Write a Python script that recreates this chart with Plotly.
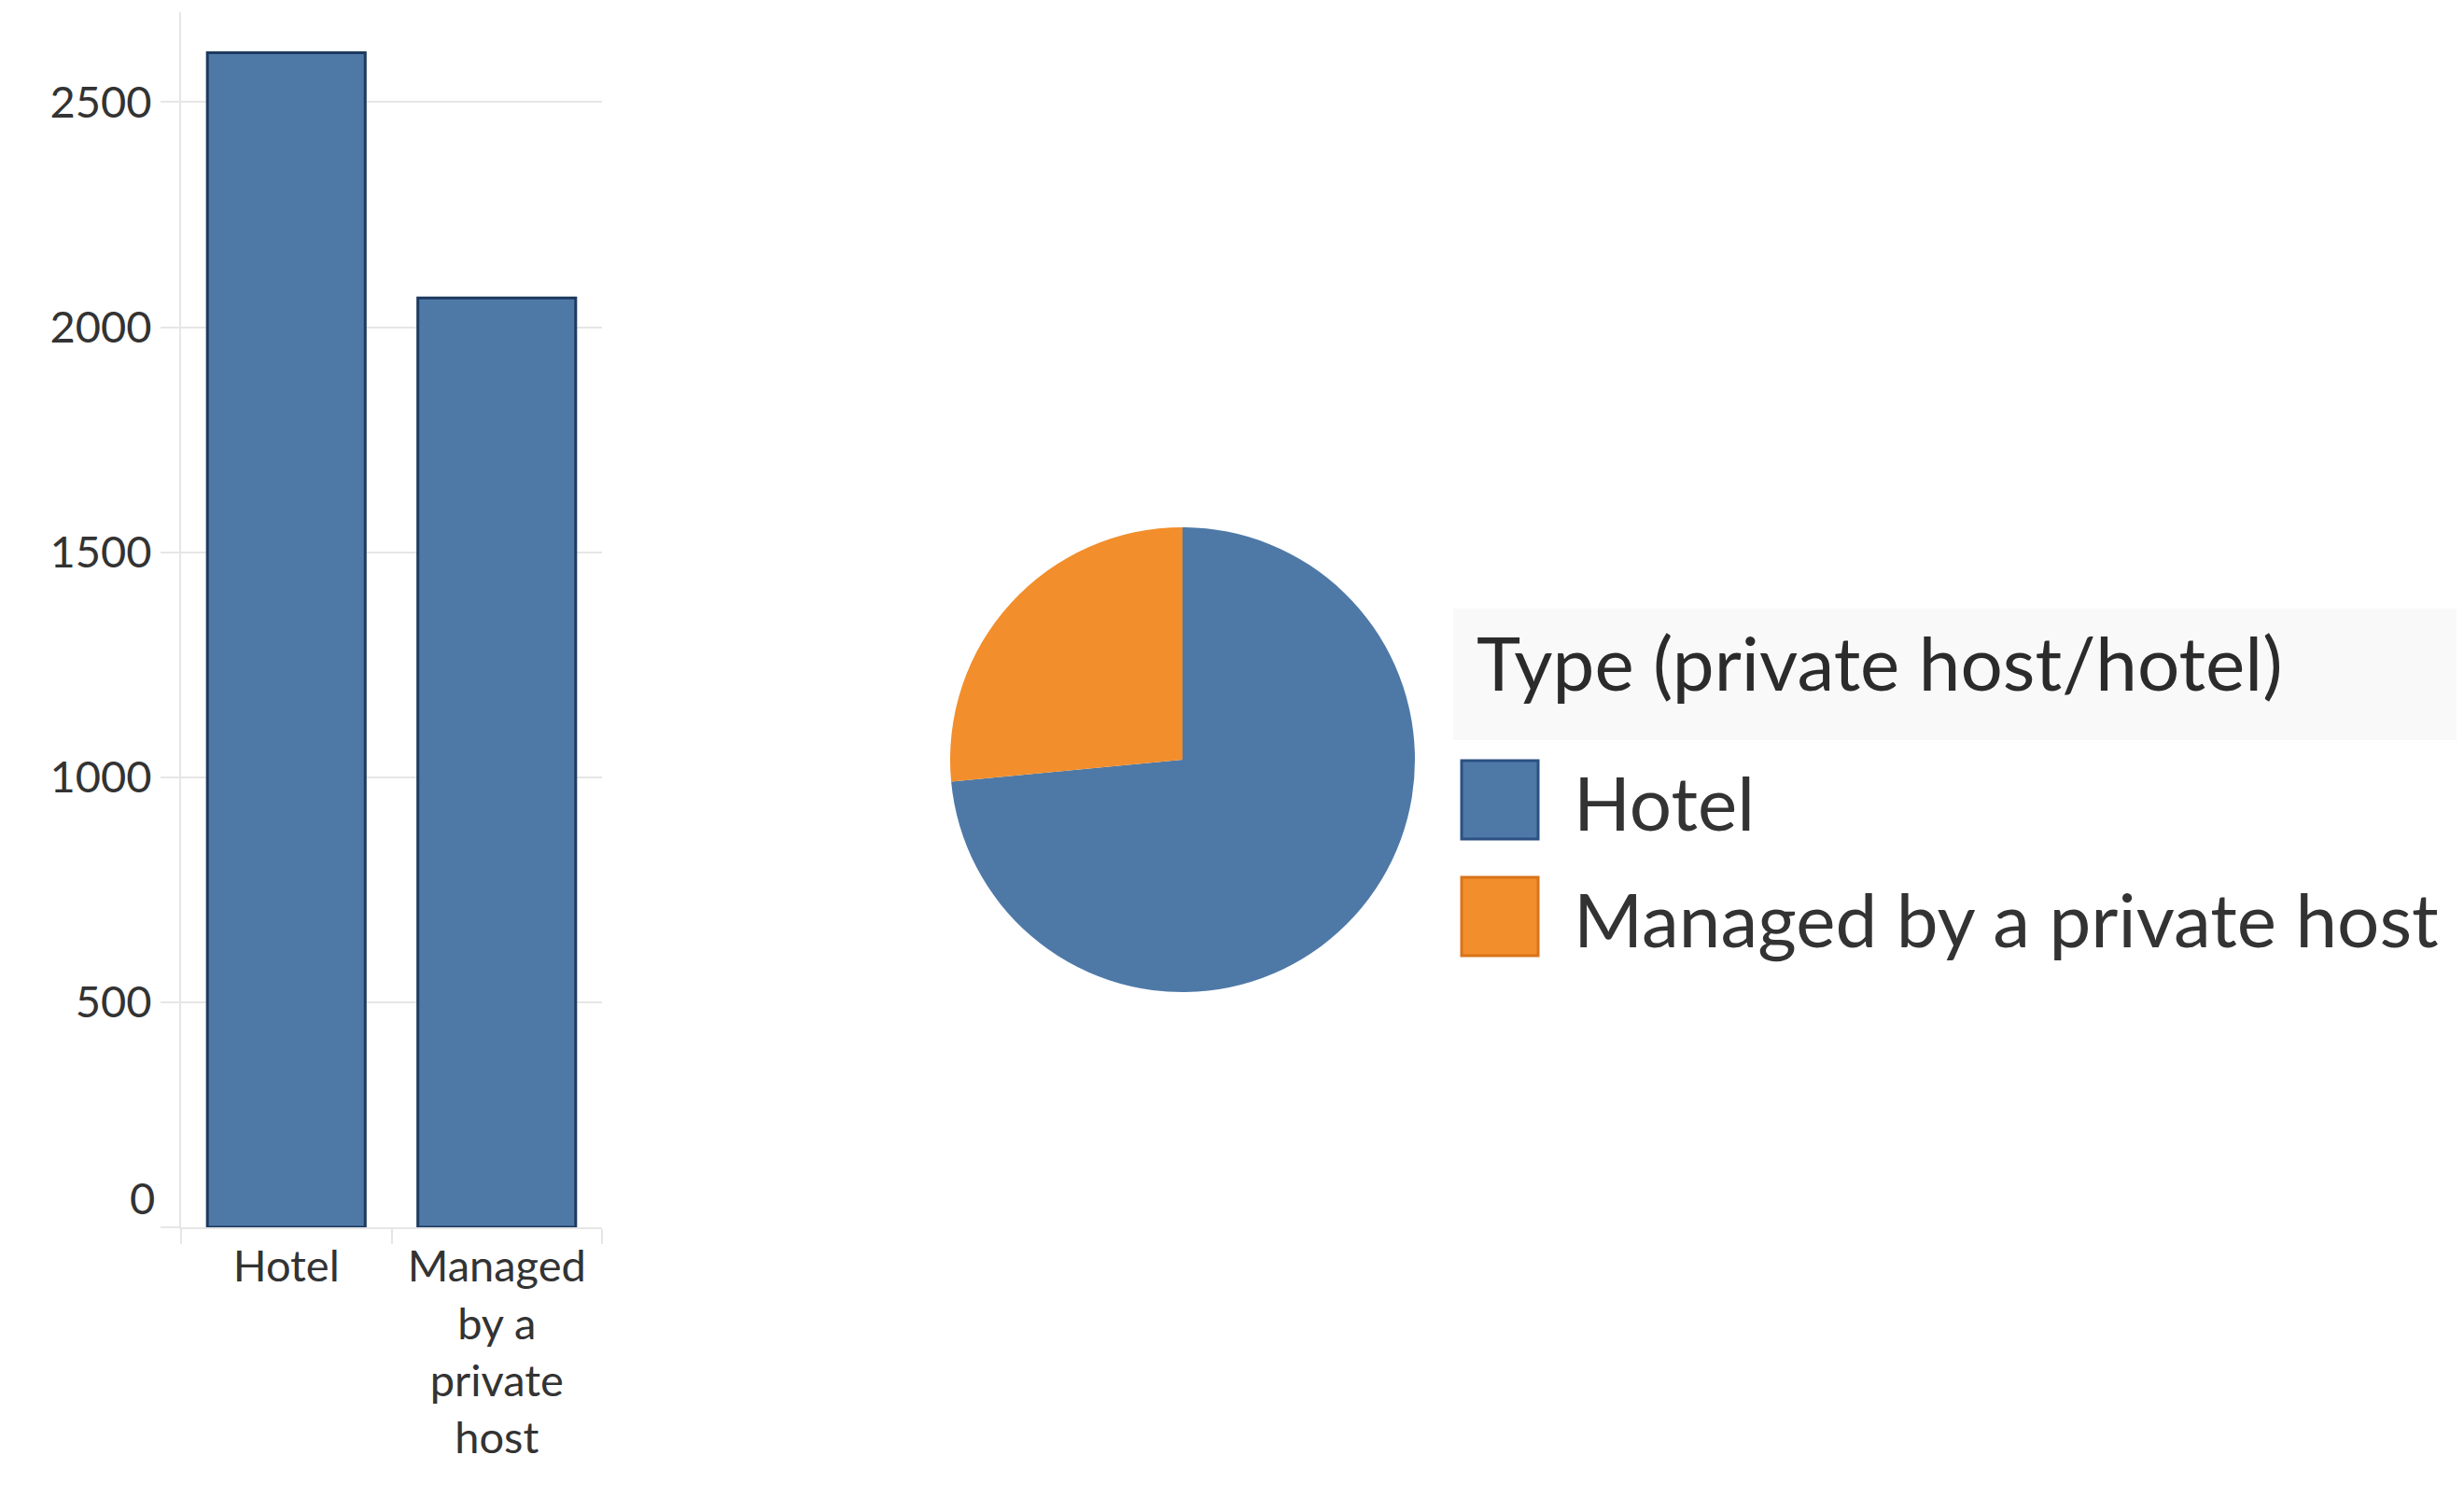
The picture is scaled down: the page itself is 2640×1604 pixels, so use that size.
import plotly.graph_objects as go

categories = ["Hotel", "Managed by a private host"]
bar_values = [2610, 2065]
pie_share = [73.5, 26.5]
colors = ["#4e79a7", "#f28e2b"]
edge_colors = ["#2b5182", "#d8741a"]
y_ticks = [0, 500, 1000, 1500, 2000, 2500]
x_tick_text = ["Hotel", "Managed<br>by a<br>private<br>host"]
legend_title = "Type (private host/hotel)"

W, H = 2640, 1604
OFF = 8  # page body margin pushes the figure down/right
FONT = "Lato"
GRID = "#e6e6e6"


def px_x(x):
    return (x - OFF) / W


def px_y(y):
    return 1 - (y - OFF) / H


fig = go.Figure()

fig.add_trace(go.Bar(
    x=categories, y=bar_values, width=0.75,
    marker=dict(color=colors[0], line=dict(color="#1d3a5f", width=3)),
    showlegend=False,
))

# pie: hotel starts at 12 o'clock and runs clockwise
fig.add_trace(go.Pie(
    labels=categories, values=pie_share, sort=False,
    direction="clockwise", rotation=0, textinfo="none",
    marker=dict(colors=colors), showlegend=False,
    domain=dict(x=[px_x(1018), px_x(1516)], y=[px_y(1063), px_y(565)]),
))

fig.update_xaxes(
    domain=[px_x(194), px_x(645)], range=[-0.5, 1.5],
    tickmode="array", tickvals=categories, ticktext=x_tick_text,
    ticks="outside", tickson="boundaries", ticklen=16, tickwidth=2, tickcolor=GRID,
    showline=True, linecolor=GRID, linewidth=2, showgrid=False,
    tickfont=dict(family=FONT, size=47, color="#333333"),
)
fig.update_yaxes(
    domain=[px_y(1315), px_y(13)], range=[0, 2700],
    tickmode="array", tickvals=y_ticks,
    ticktext=["" if v == 0 else str(v) for v in y_ticks],
    ticks="outside", ticklen=20, tickwidth=2, tickcolor=GRID,
    showgrid=True, gridcolor=GRID, gridwidth=2,
    showline=True, linecolor=GRID, linewidth=2, zeroline=False,
    ticklabelstandoff=0,
    tickfont=dict(family=FONT, size=47, color="#333333"),
)

annotations = [
    # tableau lifts the zero label above the baseline
    dict(x=px_x(168), xref="paper", xanchor="right", y=0, yref="y", yanchor="bottom",
         yshift=2, text="0", showarrow=False, font=dict(family=FONT, size=47, color="#333333")),
    dict(x=px_x(1580), xref="paper", xanchor="left", y=px_y(709), yref="paper", yanchor="middle",
         text=legend_title, showarrow=False, font=dict(family=FONT, size=80, color="#2b2b2b")),
]
shapes = [
    dict(type="rect", xref="paper", yref="paper", x0=px_x(1557), x1=1, y0=px_y(793), y1=px_y(652),
         fillcolor="#f9f9f9", line=dict(width=0), layer="below"),
]
swatch_top = [815, 940]
for i, name in enumerate(categories):
    top = swatch_top[i]
    shapes.append(dict(type="rect", xref="paper", yref="paper",
                       x0=px_x(1566), x1=px_x(1648), y0=px_y(top + 84), y1=px_y(top),
                       fillcolor=colors[i], line=dict(color=edge_colors[i], width=3)))
    annotations.append(dict(x=px_x(1684), xref="paper", xanchor="left",
                            y=px_y(top + 44), yref="paper", yanchor="middle",
                            text=name, showarrow=False,
                            font=dict(family=FONT, size=80, color="#333333")))

fig.update_layout(
    width=W, height=H, margin=dict(l=0, r=0, t=0, b=0),
    paper_bgcolor="white", plot_bgcolor="white",
    bargap=0.25, annotations=annotations, shapes=shapes,
    font=dict(family=FONT),
)

fig.write_html("out.html")
